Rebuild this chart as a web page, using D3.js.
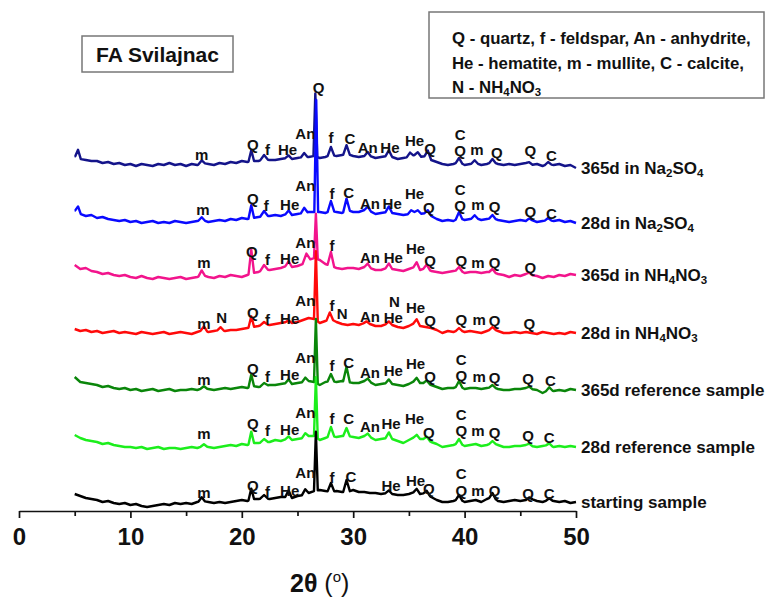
<!DOCTYPE html>
<html><head><meta charset="utf-8">
<script src="https://cdn.jsdelivr.net/npm/d3@7/dist/d3.min.js"></script>
<style>body{margin:0;background:#fff}</style>
</head><body><svg id="c" width="773" height="598"></svg>
<script>
// ---- DATA ----
const angleStart = 5, angleStep = 0.5;           // background sampled every 0.5 deg from 5 to 50
const majorTicks = [0, 10, 20, 30, 40, 50];
const minorTicks = [5, 15, 25, 35, 45];
const seriesNames = ["365d in Na2SO4", "28d in Na2SO4", "365d in NH4NO3", "28d in NH4NO3",
                     "365d reference sample", "28d reference sample", "starting sample"];
const offsets = [347, 289, 233, 178, 121, 63, 6]; // vertical shift of each pattern (a.u.)

const bgNavy = [8,5,4,3,3,1,2,0,1,-1, 0,-2,0,-1,-2,0,-1,1,-1,0, -2,0,-1,1,0,-1,1,0,2,1,
  3,2,3,3,5,4,4,5,6,5, 6,7,7,8,6,7,9,8,9,10, 8,7,8,8,6,7,8,7,5,6,
  7,9,7,8,4,2,0,-1,0,2, -1,0,1,-1,0,2,0,-1,0,-1, 0,1,-1,0,-2,0,-1,0,-2,-1, -4];
const bgBlue = [12,8,6,7,4,5,3,2,1,2, 0,1,-1,0,1,-1,0,-1,1,0, -1,0,1,2,0,1,2,1,3,2,
  4,3,4,5,6,6,7,6,8,7, 8,9,10,10,10,9,11,10,9,12, 10,10,12,11,8,9,10,9,8,7,
  8,10,8,9,6,3,1,2,1,4, 2,3,4,2,3,4,2,1,0,1, 2,1,2,0,1,2,1,2,0,1, -1];
const bgPink = [13,9,10,7,6,4,5,3,2,3, 1,0,2,0,-1,1,0,-1,0,1, -1,0,1,3,1,0,2,1,3,2,
  1,3,5,6,9,8,9,10,12,11, 12,14,18,20,18,14,12,10,9,10, 10,9,11,10,8,8,10,9,8,7,
  9,11,8,10,7,6,5,6,7,8, 5,6,6,5,6,6,4,3,1,3, 2,4,3,2,0,2,1,3,2,4, 3];
const bgRed = [4,2,3,1,2,0,1,2,0,1, 0,-1,1,0,-1,0,1,-1,0,1, 0,-1,1,3,1,2,3,2,3,3,
  4,5,6,7,9,8,9,10,11,10, 11,13,15,14,10,12,14,11,9,8, 9,8,10,9,7,7,9,8,6,5,
  7,10,7,6,5,3,0,2,1,3, 1,2,1,0,2,4,2,0,0,1, 0,1,0,-1,1,0,-1,0,-1,1, 0];
const bgGreen = [13,8,7,6,5,3,4,2,1,2, 0,1,-1,0,1,-1,0,1,-1,0, 0,1,0,2,1,0,1,2,1,2,
  3,2,4,3,4,5,5,6,7,6, 7,8,9,8,5,8,9,8,9,8, 7,7,9,8,5,6,7,6,5,4,
  6,9,7,7,5,3,1,2,2,4, 1,2,2,1,2,3,1,0,0,1, 1,2,1,0,-3,0,-1,0,-1,1, 0];
const bgLime = [13,10,8,7,6,4,5,3,2,1, 1,0,1,-1,0,1,-1,0,0,-1, 0,1,0,2,1,0,1,2,3,2,
  4,3,5,5,6,6,8,7,9,8, 9,10,12,12,8,10,12,11,12,12, 11,10,12,11,8,9,10,9,7,5,
  8,11,9,9,6,4,1,2,3,5, 2,3,4,2,3,5,3,1,1,2, 2,3,2,1,2,3,1,2,1,2, 1];
const bgBlack = [11,9,7,6,5,3,4,2,1,2, 0,1,-1,-2,-1,0,1,0,2,1, 2,1,3,4,3,2,3,2,3,4,
  5,4,6,6,7,6,7,8,8,7, 9,10,12,14,15,14,13,14,13,13, 15,13,13,12,12,11,12,11,10,10,
  11,13,11,12,8,5,3,3,4,6, 3,4,5,3,6,8,4,3,4,5, 4,5,6,4,3,5,4,3,4,2, 3];

// peaks: [2theta, height above background, half width]
const pkNavy = [[5.3,8,0.25],[16.4,3,0.3],[20.85,11,0.25],[22.0,4,0.35],[24.2,3,0.3],[25.6,4,0.3],[26.6,63,0.17],[28.0,8,0.3],[29.4,9,0.3],[31.3,4,0.3],[33.2,6,0.3],[35.1,4,0.3],[35.8,4,0.3],[36.7,7,0.3],[39.5,4,0.3],[40.9,3,0.3],[42.5,3,0.3],[45.8,2,0.3],[47.5,2,0.3]];
const pkBlue = [[5.3,6,0.25],[16.4,3,0.3],[20.85,13,0.25],[22.0,5,0.35],[24.2,4,0.3],[25.6,5,0.3],[26.68,112,0.17],[28.0,10,0.3],[29.4,12,0.3],[31.3,4,0.3],[33.2,6,0.3],[35.2,3,0.3],[35.8,3,0.3],[36.7,4,0.3],[39.5,6,0.3],[40.9,3,0.3],[42.5,3,0.3],[45.8,2,0.3],[47.5,2,0.3]];
const pkPink = [[16.4,5,0.3],[20.85,24,0.25],[22.0,4,0.35],[24.2,5,0.3],[25.8,8,0.35],[26.65,45,0.17],[28.0,14,0.3],[31.3,4,0.3],[33.2,5,0.3],[35.7,6,0.3],[36.6,4,0.3],[39.5,3,0.3],[42.5,3,0.3],[45.8,2,0.3]];
const pkRed = [[16.6,4,0.3],[18.1,3,0.3],[20.85,11,0.25],[22.0,2,0.35],[24.2,2,0.3],[26.65,69,0.17],[27.9,7,0.3],[31.2,2,0.3],[33.2,3,0.3],[35.7,5,0.3],[39.5,2,0.3],[42.5,2,0.3]];
const pkGreen = [[16.6,2,0.3],[20.85,12,0.25],[22.0,3,0.35],[24.2,4,0.3],[25.7,4,0.3],[26.65,64,0.17],[28.0,7,0.3],[29.4,15,0.3],[31.3,3,0.3],[33.2,4,0.3],[35.7,4,0.3],[36.6,3,0.3],[39.5,5,0.3],[42.5,2,0.3],[45.8,2,0.3],[47.6,3,0.3]];
const pkLime = [[16.6,2,0.3],[20.85,12,0.25],[22.0,3,0.35],[24.2,3,0.3],[25.7,4,0.3],[26.65,60,0.17],[28.0,9,0.3],[29.4,8,0.3],[31.3,3,0.3],[33.2,6,0.3],[35.7,3,0.3],[36.6,3,0.3],[39.5,4,0.3],[42.5,2,0.3],[45.8,2,0.3],[47.6,2,0.3]];
const pkBlack = [[16.4,4,0.3],[20.85,11,0.25],[22.0,3,0.35],[24.2,7,0.3],[25.7,5,0.3],[26.65,59,0.17],[28.0,9,0.3],[29.4,12,0.3],[33.2,3,0.3],[35.7,4,0.3],[36.6,3,0.3],[39.5,4,0.3],[42.5,4,0.3],[45.8,2,0.3],[47.6,2,0.3]];

// phase labels: [2theta, text, height of label centre above pattern]
const lbNavy = [[16.4,"m",10],[21.0,"Q",20],[22.3,"f",15],[24.1,"He",15],[25.7,"An",31],[26.9,"Q",77],[28.0,"f",27],[29.7,"C",26],[31.3,"An",17],[33.3,"He",17],[35.5,"He",24],[36.9,"Q",16],[39.6,"C",30],[39.6,"Q",14],[41.1,"m",15],[42.9,"Q",12],[45.9,"Q",14],[47.8,"C",9]];
const lbBlue = [[16.5,"m",13],[21.0,"Q",24],[22.2,"f",17],[24.3,"He",18],[25.7,"An",37],[28.1,"f",29],[29.6,"C",30],[31.5,"An",19],[33.5,"He",19],[35.5,"He",29],[36.8,"Q",15],[39.6,"C",33],[39.6,"Q",17],[41.2,"m",18],[42.7,"Q",16],[45.9,"Q",11],[47.8,"C",9]];
const lbPink = [[16.6,"m",16],[20.9,"Q",27],[22.3,"f",19],[24.3,"He",20],[25.7,"An",36],[28.1,"f",33],[31.5,"An",21],[33.6,"He",21],[35.6,"He",30],[36.9,"Q",18],[39.7,"Q",18],[41.2,"m",16],[42.7,"Q",16],[45.9,"Q",11]];
const lbRed = [[16.6,"m",10],[18.2,"N",16],[21.0,"Q",21],[22.3,"f",14],[24.3,"He",15],[25.7,"An",33],[28.1,"f",28],[29.0,"N",20],[31.5,"An",17],[33.7,"N",32],[33.6,"He",16],[35.6,"He",26],[36.9,"Q",13],[39.7,"Q",14],[41.3,"m",14],[42.7,"Q",13],[45.8,"Q",10]];
const lbGreen = [[16.6,"m",11],[21.0,"Q",22],[22.3,"f",14],[24.3,"He",16],[25.7,"An",33],[28.1,"f",25],[29.6,"C",28],[31.5,"An",18],[33.6,"He",20],[35.6,"He",27],[36.9,"Q",14],[39.7,"C",31],[39.7,"Q",15],[41.3,"m",14],[42.7,"Q",13],[45.7,"Q",12],[47.7,"C",10]];
const lbLime = [[16.6,"m",15],[21.0,"Q",25],[22.3,"f",18],[24.3,"He",19],[25.7,"An",36],[28.1,"f",30],[29.6,"C",30],[31.5,"An",22],[33.4,"He",25],[35.5,"He",30],[36.8,"Q",16],[39.7,"C",34],[39.7,"Q",18],[41.2,"m",18],[42.7,"Q",16],[45.7,"Q",13],[47.6,"C",11]];
const lbBlack = [[16.6,"m",13],[21.0,"Q",20],[22.3,"f",14],[24.3,"He",15],[25.7,"An",33],[28.1,"f",28],[29.8,"C",29],[33.4,"He",20],[35.6,"He",25],[36.8,"Q",17],[39.7,"C",32],[39.7,"Q",15],[41.2,"m",15],[42.7,"Q",15],[45.7,"Q",12],[47.6,"C",12]];

const legendLines = [[["Q - quartz, f - feldspar, An - anhydrite,",0]],
                     [["He - hematite, m - mullite, C - calcite,",0]],
                     [["N - NH",0],["4",1],["NO",0],["3",1]]];
const seriesLabelParts = [
  [["365d in Na",0],["2",1],["SO",0],["4",1]],
  [["28d in Na",0],["2",1],["SO",0],["4",1]],
  [["365d in NH",0],["4",1],["NO",0],["3",1]],
  [["28d in NH",0],["4",1],["NO",0],["3",1]],
  [["365d reference sample",0]],
  [["28d reference sample",0]],
  [["starting sample",0]]];
const colors = ["#14148a", "#0a0aff", "#f2148c", "#ff0a0a", "#0a860a", "#1cee1c", "#000000"];

// ---- DRAWING ----
const bgs = [bgNavy, bgBlue, bgPink, bgRed, bgGreen, bgLime, bgBlack];
const pks = [pkNavy, pkBlue, pkPink, pkRed, pkGreen, pkLime, pkBlack];
const lbs = [lbNavy, lbBlue, lbPink, lbRed, lbGreen, lbLime, lbBlack];
const FONT = "'Liberation Sans', Arial, Helvetica, sans-serif";

const svg = d3.select("#c");
const x = d3.scaleLinear().domain([0, 50]).range([19, 576]);
const y = d3.scaleLinear().domain([0, 450]).range([511, 61]);

function buildPoints(bg, peaks) {
  const grid = bg.map((v, i) => angleStart + i * angleStep);
  const bgAt = d3.scaleLinear().domain(grid).range(bg).clamp(true);
  const pts = [];
  grid.forEach((a, i) => {
    if (!peaks.some(p => a > p[0] - p[2] && a < p[0] + p[2])) pts.push([a, bg[i]]);
  });
  peaks.forEach(p => {
    const lo = Math.max(angleStart, p[0] - p[2]);
    pts.push([lo, bgAt(lo)]);
    pts.push([p[0], bgAt(p[0]) + p[1]]);
    pts.push([p[0] + p[2], bgAt(p[0] + p[2])]);
  });
  pts.sort((a, b) => a[0] - b[0]);
  return pts;
}

function rich(textSel, parts, size) {
  parts.forEach((p, i) => {
    const t = textSel.append("tspan").text(p[0]);
    if (p[1]) t.attr("font-size", size * 0.68).attr("dy", size * 0.3);
    else if (i > 0 && parts[i - 1][1]) t.attr("dy", -size * 0.3);
  });
}

const line = d3.line().x(d => x(d[0])).y(d => y(d[1]));

bgs.forEach((bg, s) => {
  const pts = buildPoints(bg, pks[s]).map(d => [d[0], d[1] + offsets[s]]);
  svg.append("path").attr("d", line(pts)).attr("fill", "none")
     .attr("stroke", colors[s]).attr("stroke-width", 2.4).attr("stroke-linejoin", "round");
  const g = svg.append("g").attr("font-family", FONT).attr("font-weight", "bold")
     .attr("font-size", 15).attr("fill", "#111");
  lbs[s].forEach(l => {
    g.append("text").attr("x", x(l[0])).attr("y", y(offsets[s] + l[2]))
      .attr("text-anchor", "middle").attr("dominant-baseline", "central").text(l[1]);
  });
  const last = bg[bg.length - 1];
  const t = svg.append("text").attr("x", x(50) + 5).attr("y", y(offsets[s] + last))
     .attr("dominant-baseline", "central").attr("font-family", FONT)
     .attr("font-weight", "bold").attr("font-size", 17).attr("fill", "#111");
  rich(t, seriesLabelParts[s], 17);
});

// axis
const ax = svg.append("g").attr("transform", "translate(0,511)")
  .call(d3.axisBottom(x).tickValues(majorTicks).tickSize(7).tickSizeOuter(0).tickFormat(d3.format("d")));
ax.attr("font-family", FONT).attr("font-size", 24).attr("font-weight", "bold");
ax.select(".domain").attr("stroke-width", 1.7).attr("stroke", "#111");
ax.selectAll(".tick line").attr("stroke-width", 1.7).attr("stroke", "#111");
ax.selectAll(".tick text").attr("y", 34).attr("dy", null).attr("fill", "#111");
const axm = svg.append("g").attr("transform", "translate(0,511)")
  .call(d3.axisBottom(x).tickValues(minorTicks).tickSize(5).tickFormat(""));
axm.select(".domain").remove();
axm.selectAll(".tick line").attr("stroke-width", 1.7).attr("stroke", "#111");

// x title
const xt = svg.append("text").attr("x", 290).attr("y", 592).attr("font-family", FONT)
  .attr("font-size", 25).attr("fill", "#111");
xt.append("tspan").attr("font-weight", "bold").text("2θ");
xt.append("tspan").text(" (");
xt.append("tspan").attr("font-size", 15).attr("dy", -10).text("o");
xt.append("tspan").attr("dy", 10).text(")");

// title box
svg.append("rect").attr("x", 82).attr("y", 36).attr("width", 151).attr("height", 36)
  .attr("fill", "#fff").attr("stroke", "#777").attr("stroke-width", 1.5);
svg.append("text").attr("x", 157.5).attr("y", 54).attr("text-anchor", "middle")
  .attr("dominant-baseline", "central").attr("font-family", FONT).attr("font-weight", "bold")
  .attr("font-size", 21).attr("fill", "#111").text("FA Svilajnac");

// legend box
svg.append("rect").attr("x", 429).attr("y", 12).attr("width", 335).attr("height", 86)
  .attr("fill", "#fff").attr("stroke", "#777").attr("stroke-width", 1.5);
legendLines.forEach((parts, i) => {
  const t = svg.append("text").attr("x", 452).attr("y", 38 + i * 24.5)
    .attr("dominant-baseline", "central").attr("font-family", FONT).attr("font-weight", "bold")
    .attr("font-size", 16.8).attr("fill", "#111");
  rich(t, parts, 16.8);
});
</script></body></html>
